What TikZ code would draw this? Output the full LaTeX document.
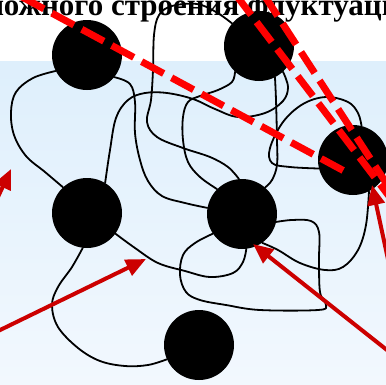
\documentclass[tikz,border=0pt]{standalone}
\usepackage{fontspec}
\setmainfont{Liberation Serif}
\usetikzlibrary{arrows.meta}

\definecolor{bandtop}{RGB}{222,239,252}
\definecolor{bandbot}{RGB}{242,248,254}
\definecolor{arrowred}{RGB}{204,0,0}

\begin{document}
\begin{tikzpicture}[x=1pt,y=-1pt,
  ball/.style={circle,fill=black,minimum size=70pt,inner sep=0pt},
  chain/.style={line width=1.8pt,line cap=round,line join=round},
  link/.style={draw=red,line width=7pt,dash pattern=on 25pt off 9pt},
  pointer/.style={draw=arrowred,line width=4pt,-{Triangle[length=20pt,width=17pt]}}]

\useasboundingbox (0,0) rectangle (386,384);
\clip (0,0) rectangle (386,384);

% background: white heading band, pale blue field
\fill[white] (0,0) rectangle (386,61);
\shade[top color=bandtop,bottom color=bandbot] (0,61) rectangle (386,384);

% heading
\node[anchor=base west,inner sep=0pt,font=\bfseries\fontsize{31}{35}\selectfont] (title) at (-17,15) {можного строения флуктуаци};

% cross-link junctions
\node[ball] (c1) at (87,55) {};
\node[ball] (c2) at (259,46) {};
\node[ball] (c3) at (353,160) {};
\node[ball] (c4) at (87,213) {};
\node[ball] (c5) at (242,214) {};
\node[ball] (c6) at (199,345) {};

% chain segments
\draw[chain] plot[smooth,tension=0.6] coordinates {(c1.207) (33,78) (16,92) (11,112) (14,135) (26,156) (45,172) (c4.133)};
\draw[chain] plot[smooth,tension=0.6] coordinates {(c1.321) (130,84) (135,102) (135,133) (140,160) (148,181) (162,196) (185,203) (c5.170)};
\draw[chain] plot[smooth,tension=0.6] coordinates {(c4.59) (110,150) (116,118) (128,100) (145,93) (167,93) (193,99) (215,109) (238,117) (265,113) (283,101) (288,87) (c2.313)};
\draw[chain] plot[smooth,tension=0.6] coordinates {(c2.140) (216,12) (197,4) (172,6) (159,15) (154,35) (153,70) (151,100) (147,122) (157,137) (183,148) (210,157) (228,167) (c5.95)};
\draw[chain] plot[smooth,tension=0.6] coordinates {(c2.227) (232,82) (218,90) (200,96) (188,102) (183,117) (183,140) (188,162) (200,177) (c5.135)};
\draw[chain] plot[smooth,tension=0.6] coordinates {(c2.297) (276,100) (277,140) (277,165) (272,180) (c5.49)};
\draw[chain] plot[smooth,tension=0.6] coordinates {(c3.76) (358,113) (348,102) (326,97) (303,104) (283,122) (270,148) (272,163) (290,167) (c3.194)};
\draw[chain] plot[smooth,tension=0.6] coordinates {(c5.214) (195,243) (183,255) (180,275) (186,292) (200,300) (226,305) (260,310) (318,310) (326,305) (320,292) (319,260) (319,232) (311,221) (292,220) (c5.347)};
\draw[chain] plot[smooth,tension=0.6] coordinates {(c4.324) (135,248) (158,263) (185,271) (210,277) (233,273) (243,262) (c5.277)};
\draw[chain] plot[smooth,tension=0.6] coordinates {(c4.263) (72,267) (58,287) (52,305) (58,327) (78,348) (100,361) (125,366) (148,365) (c6.204)};
\draw[chain] plot[smooth,tension=0.6] coordinates {(c5.305) (278,250) (300,263) (325,270) (343,267) (358,250) (366,225) (c3.297)};

% dashed guide lines
\coordinate (d1s) at (22,-3);
\coordinate (d1e) at (346,172);
\coordinate (d2s) at (236,-5);
\coordinate (d2e) at (392,200);
\coordinate (d3s) at (264,-5);
\coordinate (d3e) at (392,192);
\draw[link] (d1s) -- (d1e);
\draw[link] (d2s) -- (d2e);
\draw[link] (d3s) -- (d3e);

% pointers
\coordinate (a1s) at (-4,332);
\coordinate (a1t) at (146,259);
\coordinate (a2s) at (-3,199);
\coordinate (a2t) at (11,169);
\coordinate (a3s) at (392,354);
\coordinate (a3t) at (253,244);
\coordinate (a4s) at (389,264);
\coordinate (a4t) at (372,185);
\draw[pointer] (a1s) -- (a1t);
\draw[pointer] (a2s) -- (a2t);
\draw[pointer] (a3s) -- (a3t);
\draw[pointer] (a4s) -- (a4t);
\end{tikzpicture}
\end{document}
